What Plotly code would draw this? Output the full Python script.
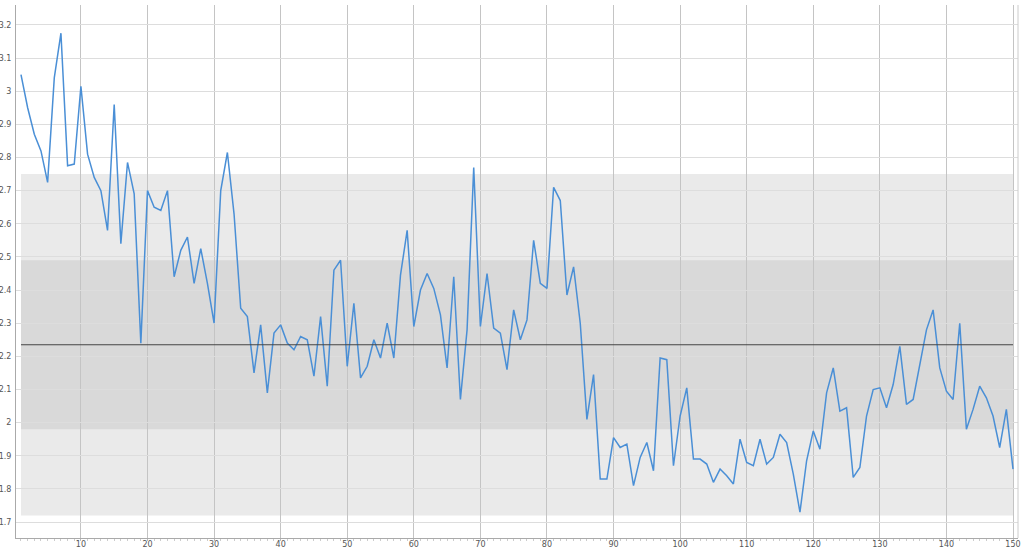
import plotly.graph_objects as go

x_vals = list(range(1, 151))
y_vals = [
    3.05, 2.95, 2.87, 2.82, 2.725, 3.04, 3.175, 2.775, 2.78, 3.015,
    2.81, 2.74, 2.70, 2.58, 2.96, 2.54, 2.785, 2.69, 2.24, 2.70,
    2.65, 2.64, 2.70, 2.44, 2.52, 2.56, 2.42, 2.525, 2.42, 2.30,
    2.70, 2.815, 2.63, 2.345, 2.32, 2.15, 2.295, 2.09, 2.27, 2.295,
    2.24, 2.22, 2.26, 2.25, 2.14, 2.32, 2.11, 2.46, 2.49, 2.17,
    2.36, 2.135, 2.17, 2.25, 2.195, 2.30, 2.195, 2.445, 2.58, 2.29,
    2.40, 2.45, 2.405, 2.325, 2.165, 2.44, 2.07, 2.28, 2.77, 2.29,
    2.45, 2.285, 2.27, 2.16, 2.34, 2.25, 2.31, 2.55, 2.42, 2.405,
    2.71, 2.67, 2.385, 2.47, 2.30, 2.01, 2.145, 1.83, 1.83, 1.955,
    1.925, 1.935, 1.81, 1.895, 1.94, 1.855, 2.195, 2.19, 1.87, 2.02,
    2.105, 1.89, 1.89, 1.875, 1.82, 1.86, 1.84, 1.815, 1.95, 1.88,
    1.87, 1.95, 1.875, 1.895, 1.965, 1.94, 1.845, 1.73, 1.885, 1.975,
    1.92, 2.09, 2.165, 2.035, 2.045, 1.835, 1.865, 2.02, 2.10, 2.105,
    2.045, 2.115, 2.23, 2.055, 2.07, 2.17, 2.28, 2.34, 2.165, 2.095,
    2.07, 2.30, 1.98, 2.04, 2.11, 2.075, 2.02, 1.925, 2.04, 1.86,
]

mean_value = 2.235
outer_band = [1.72, 2.75]
inner_band = [1.98, 2.49]
x_ticks = [10, 20, 30, 40, 50, 60, 70, 80, 90, 100, 110, 120, 130, 140, 150]
y_ticks = [1.7, 1.8, 1.9, 2.0, 2.1, 2.2, 2.3, 2.4, 2.5, 2.6, 2.7, 2.8, 2.9, 3.0, 3.1, 3.2]
y_tick_text = ["1.7", "1.8", "1.9", "2", "2.1", "2.2", "2.3", "2.4", "2.5", "2.6", "2.7", "2.8", "2.9", "3", "3.1", "3.2"]

fig = go.Figure()
fig.add_trace(go.Scatter(
    x=x_vals, y=y_vals, mode="lines",
    line=dict(color="#4a8fd6", width=1.5),
    hoverinfo="x+y", showlegend=False,
))

fig.add_shape(type="rect", xref="x", yref="y", x0=x_vals[0], x1=x_vals[-1],
              y0=outer_band[0], y1=outer_band[1], fillcolor="#eaeaea",
              line=dict(width=0), layer="below")
fig.add_shape(type="rect", xref="x", yref="y", x0=x_vals[0], x1=x_vals[-1],
              y0=inner_band[0], y1=inner_band[1], fillcolor="#d9d9d9",
              line=dict(width=0), layer="below")
fig.add_shape(type="line", xref="x", yref="y", x0=x_vals[0], x1=x_vals[-1],
              y0=mean_value, y1=mean_value, line=dict(color="#444444", width=1),
              layer="above")
fig.add_shape(type="line", xref="paper", yref="paper", x0=1, x1=1, y0=0, y1=1,
              line=dict(color="#cccccc", width=1), layer="above")

fig.update_layout(
    width=1024, height=550,
    margin=dict(l=16, r=6, t=5, b=12, autoexpand=False),
    paper_bgcolor="white", plot_bgcolor="white",
    font=dict(family="DejaVu Sans", size=8, color="#555555"),
    xaxis=dict(
        range=[0.25, 150.75], tickmode="array", tickvals=x_ticks,
        showgrid=True, gridcolor="#c4c4c4", gridwidth=1,
        zeroline=False, showline=True, linecolor="#aaaaaa", linewidth=1,
        ticks="outside", ticklen=2, tickcolor="#bbbbbb",
        ticklabelstandoff=-4,
        minor=dict(ticks="outside", dtick=1, ticklen=2, tickcolor="#cccccc", showgrid=False),
        automargin=False,
    ),
    yaxis=dict(
        range=[1.652, 3.26], tickmode="array", tickvals=y_ticks, ticktext=y_tick_text,
        showgrid=True, gridcolor="#dddddd", gridwidth=1,
        zeroline=False, showline=True, linecolor="#aaaaaa", linewidth=1,
        ticks="", ticklabelstandoff=2, automargin=False,
    ),
)

fig.write_html(
    "out.html",
    config={"displayModeBar": False},
    post_script="document.body.style.margin='0';document.body.style.overflow='hidden';",
)
